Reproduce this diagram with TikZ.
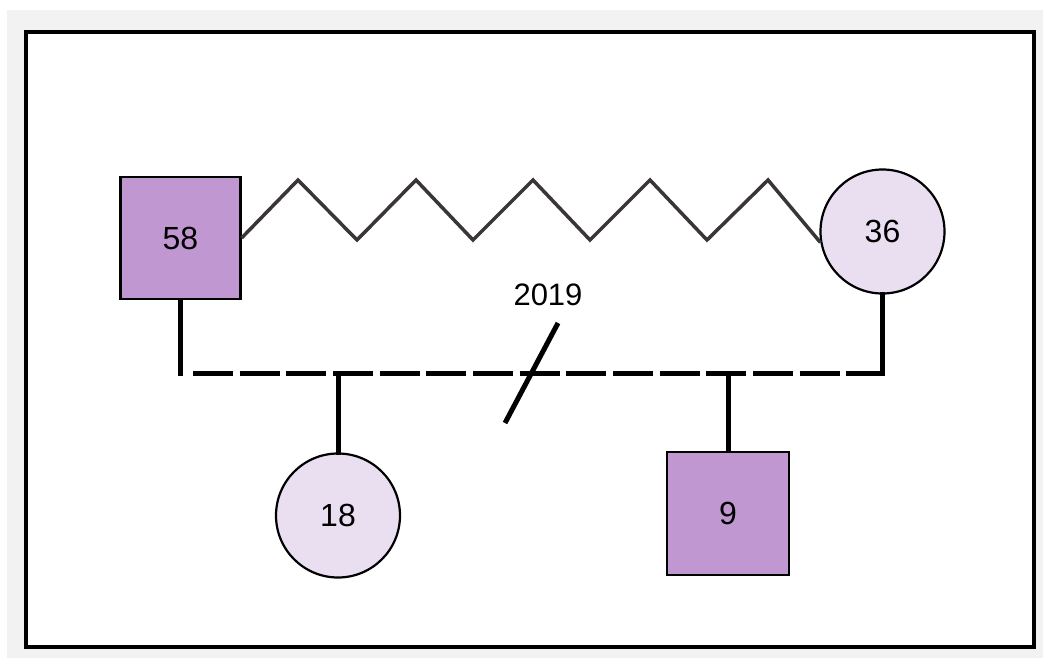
\documentclass[tikz,border=0pt]{standalone}
\usepackage{fontspec}
\setmainfont{Liberation Sans}
\definecolor{bggray}{HTML}{F2F2F2}
\definecolor{malefill}{HTML}{C197D2}
\definecolor{femalefill}{HTML}{EADFF1}
\definecolor{zzcol}{HTML}{3A3636}
\begin{document}
\begin{tikzpicture}[x=1pt,y=-1pt,
  person/.style={draw=black, line width=2.2pt, inner sep=0pt, font=\fontsize{32}{32}\selectfont},
  msq/.style={person, rectangle, fill=malefill, minimum width=120pt, minimum height=122pt},
  fcirc/.style={person, circle, fill=femalefill, minimum size=124pt},
  famline/.style={line width=5pt, line cap=rect},
  dashline/.style={line width=5pt, dash pattern=on 40pt off 6.67pt},
  zigline/.style={draw=zzcol, line width=3.5pt, line join=miter},
  yearlabel/.style={font=\fontsize{31}{31}\selectfont, inner sep=0pt}]
\useasboundingbox (0,0) rectangle (1043,658);
\fill[white] (0,0) rectangle (1043,658);
\fill[bggray] (7,10) rectangle (1043,658);
\draw[line width=4pt, fill=white] (26,32) rectangle (1034,647);
% persons
\node[msq] (p58) at (180.5,238) {58};
\node[fcirc] (p36) at (882.5,231.5) {36};
\node[fcirc] (p18) at (338,515.5) {18};
\node[msq, minimum width=122pt, minimum height=123pt] (p9) at (728,513.5) {9};
% partnership line
\coordinate (jl) at (180.5,373);
\coordinate (jr) at (882.5,373);
\coordinate (ds) at (193,373);
\draw[famline] (p58.south) -- (jl);
\draw[famline] (p36.south) -- (jr);
\draw[dashline] (ds) -- (jr);
% children
\draw[famline] (p18.north |- jl) -- (p18.north);
\draw[famline] (p9.north |- jl) -- (p9.north);
% divorce slash
\coordinate (s1) at (558,323);
\coordinate (s2) at (505,423);
\draw[line width=5pt] (s1) -- (s2);
\node[yearlabel] (yr) at (548,295) {2019};
% zigzag relation
\draw[zigline] (p58.east) -- (298,180) -- (357,240) -- (416,180) -- (473,240)
  -- (533,180) -- (590,240) -- (650,180) -- (707,240) -- (768,180) -- (p36.190);
\end{tikzpicture}
\end{document}
